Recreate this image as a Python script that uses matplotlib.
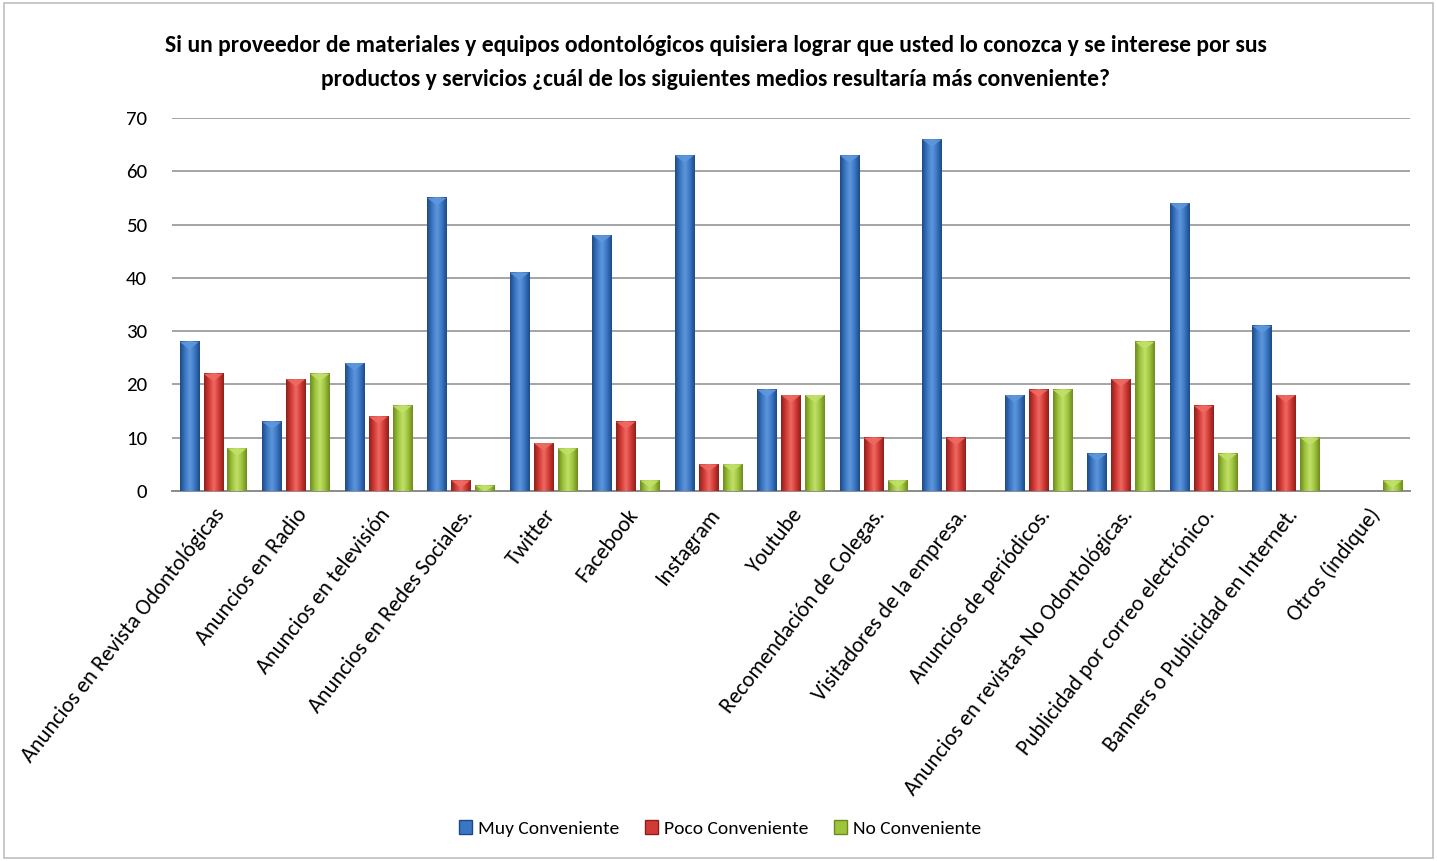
import numpy as np
import matplotlib
matplotlib.use('Agg')
import matplotlib.pyplot as plt
from matplotlib.colors import LinearSegmentedColormap
from matplotlib.patches import Polygon, Rectangle

plt.rcParams['font.family'] = ['Carlito', 'Liberation Sans Narrow', 'DejaVu Sans Condensed',
                               'Lato', 'DejaVu Sans']

categories = [
    "Anuncios en Revista Odontológicas",
    "Anuncios en Radio",
    "Anuncios en televisión",
    "Anuncios en Redes Sociales.",
    "Twitter",
    "Facebook",
    "Instagram",
    "Youtube",
    "Recomendación de Colegas.",
    "Visitadores de la empresa.",
    "Anuncios de periódicos.",
    "Anuncios en revistas No Odontológicas.",
    "Publicidad por correo electrónico.",
    "Banners o Publicidad en Internet.",
    "Otros (indique)",
]
muy = [28, 13, 24, 55, 41, 48, 63, 19, 63, 66, 18, 7, 54, 31, 0]
poco = [22, 21, 14, 2, 9, 13, 5, 18, 10, 10, 19, 21, 16, 18, 0]
no_conv = [8, 22, 16, 1, 8, 2, 5, 18, 2, 0, 19, 28, 7, 10, 2]
series_names = ["Muy Conveniente", "Poco Conveniente", "No Conveniente"]

# dark edge, mid, highlight colours for the shaded columns
shades = [
    ("#1d4a86", "#3a76c4", "#5f97dc"),
    ("#8e1f1c", "#d23a35", "#ee6a63"),
    ("#6e8a1f", "#9cc43c", "#c2e06a"),
]

fig = plt.figure(figsize=(14.37, 8.61), dpi=100)
fig.patches.append(Rectangle((0.003, 0.003), 0.994, 0.994, transform=fig.transFigure,
                             fill=False, edgecolor="#bfbfbf", lw=1.2))
ax = fig.add_axes([0.1197, 0.4297, 0.8613, 0.4332])

x = np.arange(len(categories))
width = 0.235
offsets = [-0.29, 0.0, 0.29]
grad = np.linspace(0, 1, 64).reshape(1, -1)

for vals, off, (dark, mid, light), name in zip([muy, poco, no_conv], offsets, shades, series_names):
    cmap = LinearSegmentedColormap.from_list(name, [dark, mid, light, mid, dark])
    bars = ax.bar(x + off, vals, width, color=mid, edgecolor="none", zorder=3, label=name)
    for b in bars:
        h = b.get_height()
        if h <= 0:
            continue
        x0 = b.get_x()
        x1 = x0 + b.get_width()
        ax.imshow(grad, cmap=cmap, extent=[x0, x1, 0, h], aspect='auto', zorder=4,
                  interpolation='bicubic')
        d = min(1.4, h)
        ax.add_patch(Polygon([(x0, h), (x1, h), ((x0 + x1) / 2, h - d)], closed=True,
                             facecolor=light, edgecolor="none", alpha=0.9, zorder=5))

ax.set_xlim(-0.5, len(categories) - 0.5)
ax.set_ylim(0, 70)
ax.set_yticks(range(0, 71, 10))
ax.yaxis.grid(True, color="#8c8c8c", lw=1.1, zorder=0)
ax.set_axisbelow(True)
for s in ["left", "right", "top"]:
    ax.spines[s].set_visible(False)
ax.spines["bottom"].set_color("#8c8c8c")
ax.spines["bottom"].set_linewidth(1.4)
ax.tick_params(axis='y', length=0, pad=18, labelsize=15)
ax.tick_params(axis='x', length=0, pad=10)
ax.set_xticks(x)
ax.set_xticklabels(categories, rotation=52, ha='right', rotation_mode='anchor', fontsize=16)

fig.text(0.498, 0.927, "Si un proveedor de materiales y equipos odontológicos quisiera lograr que usted lo conozca y se interese por sus\n"
         "productos y servicios ¿cuál de los siguientes medios resultaría más conveniente?",
         ha='center', va='center', fontsize=17, fontweight='bold', linespacing=1.75)

handles = [Rectangle((0, 0), 1, 1, facecolor=m, edgecolor=d) for d, m, l in shades]
fig.legend(handles, series_names, loc='center', bbox_to_anchor=(0.501, 0.038), ncol=3,
           frameon=False, fontsize=14, handlelength=0.7, handleheight=0.7,
           handletextpad=0.3, columnspacing=1.3)

fig.savefig("out.png", dpi=100)
